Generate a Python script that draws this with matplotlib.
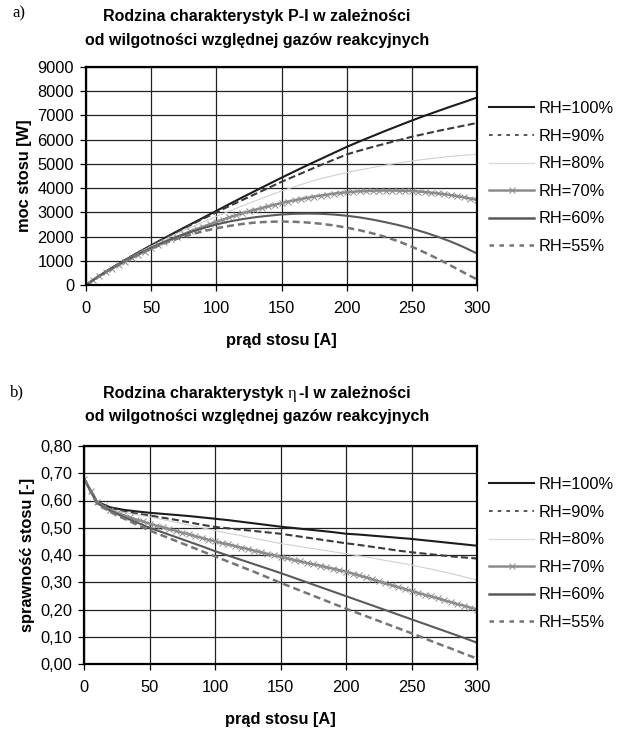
import matplotlib
matplotlib.use('Agg')
import matplotlib.pyplot as plt
from matplotlib.lines import Line2D

plt.rcParams['font.family'] = ['Liberation Sans', 'DejaVu Sans']

# prad stosu [A] - punkty co 10 A, dla RH=70% co 5 A (gesto rozstawione markery)
current = list(range(0, 301, 10))
current_70 = list(range(0, 301, 5))

labels = ['RH=100%', 'RH=90%', 'RH=80%', 'RH=70%', 'RH=60%', 'RH=55%']
x_ticks = [0, 50, 100, 150, 200, 250, 300]
p_ticks = [0, 1000, 2000, 3000, 4000, 5000, 6000, 7000, 8000, 9000]
eta_ticks = [0.0, 0.1, 0.2, 0.3, 0.4, 0.5, 0.6, 0.7, 0.8]
eta_tick_labels = ['0,00', '0,10', '0,20', '0,30', '0,40', '0,50', '0,60', '0,70', '0,80']

# moc stosu [W]
power_100 = [0, 370, 710, 1030, 1340, 1640, 1930, 2220, 2500, 2780,
             3060, 3340, 3620, 3890, 4160, 4430, 4690, 4950, 5200, 5450,
             5700, 5930, 6150, 6370, 6580, 6790, 6990, 7180, 7370, 7550, 7740]
power_90 = [0, 370, 710, 1030, 1330, 1630, 1920, 2200, 2470, 2740,
            3000, 3260, 3510, 3760, 4010, 4260, 4490, 4720, 4950, 5170,
            5390, 5550, 5700, 5840, 5980, 6120, 6240, 6360, 6470, 6580, 6690]
power_80 = [0, 370, 710, 1020, 1320, 1600, 1870, 2120, 2370, 2600,
            2830, 3050, 3270, 3480, 3680, 3880, 4060, 4230, 4390, 4520,
            4640, 4750, 4850, 4950, 5040, 5120, 5190, 5250, 5310, 5360, 5390]
power_70 = [0, 190, 360, 520, 680, 830, 970, 1110, 1250, 1380,
            1510, 1640, 1760, 1880, 1990, 2100, 2210, 2310, 2410, 2510,
            2610, 2700, 2790, 2880, 2960, 3040, 3110, 3180, 3250, 3320,
            3380, 3440, 3500, 3550, 3600, 3650, 3690, 3730, 3770, 3800,
            3830, 3850, 3870, 3880, 3890, 3900, 3900, 3900, 3895, 3890,
            3880, 3860, 3840, 3810, 3780, 3750, 3710, 3670, 3620, 3570, 3510]
power_60 = [0, 370, 700, 1000, 1280, 1540, 1780, 1990, 2180, 2350,
            2500, 2620, 2720, 2800, 2860, 2910, 2940, 2950, 2940, 2910,
            2860, 2790, 2700, 2590, 2470, 2330, 2170, 1990, 1790, 1560, 1300]
power_55 = [0, 370, 700, 990, 1260, 1500, 1720, 1910, 2080, 2220,
            2340, 2440, 2520, 2580, 2610, 2620, 2610, 2580, 2530, 2460,
            2370, 2260, 2130, 1980, 1800, 1580, 1340, 1080, 800, 510, 230]

# sprawnosc stosu [-]
eta_100 = [0.680, 0.595, 0.575, 0.566, 0.560, 0.555, 0.551, 0.547, 0.543, 0.538,
           0.533, 0.528, 0.522, 0.516, 0.510, 0.504, 0.499, 0.494, 0.489, 0.484,
           0.478, 0.475, 0.471, 0.467, 0.463, 0.459, 0.454, 0.449, 0.444, 0.439, 0.434]
eta_90 = [0.680, 0.593, 0.570, 0.560, 0.552, 0.545, 0.537, 0.529, 0.520, 0.511,
          0.503, 0.498, 0.493, 0.488, 0.483, 0.478, 0.471, 0.464, 0.457, 0.450,
          0.443, 0.437, 0.430, 0.423, 0.416, 0.410, 0.405, 0.400, 0.395, 0.391, 0.387]
eta_80 = [0.680, 0.592, 0.568, 0.557, 0.548, 0.540, 0.530, 0.520, 0.510, 0.500,
          0.490, 0.480, 0.471, 0.461, 0.452, 0.442, 0.435, 0.427, 0.420, 0.412,
          0.405, 0.397, 0.389, 0.380, 0.372, 0.363, 0.353, 0.343, 0.332, 0.320, 0.308]
eta_70 = [0.680, 0.635, 0.595, 0.578, 0.566, 0.555, 0.546, 0.538, 0.530, 0.523,
          0.515, 0.508, 0.502, 0.495, 0.489, 0.482, 0.476, 0.469, 0.463, 0.456,
          0.450, 0.444, 0.439, 0.433, 0.427, 0.422, 0.416, 0.410, 0.404, 0.399,
          0.393, 0.388, 0.382, 0.377, 0.371, 0.366, 0.361, 0.355, 0.350, 0.344,
          0.339, 0.332, 0.325, 0.318, 0.311, 0.303, 0.296, 0.289, 0.282, 0.275,
          0.268, 0.261, 0.254, 0.248, 0.241, 0.234, 0.227, 0.220, 0.214, 0.207, 0.200]
eta_60 = [0.680, 0.590, 0.563, 0.540, 0.520, 0.500, 0.483, 0.466, 0.449, 0.432,
          0.414, 0.398, 0.382, 0.366, 0.350, 0.334, 0.317, 0.300, 0.283, 0.266,
          0.249, 0.232, 0.215, 0.198, 0.181, 0.164, 0.147, 0.130, 0.113, 0.096, 0.078]
eta_55 = [0.680, 0.588, 0.558, 0.535, 0.512, 0.490, 0.471, 0.452, 0.433, 0.414,
          0.395, 0.376, 0.357, 0.338, 0.318, 0.298, 0.279, 0.260, 0.241, 0.222,
          0.203, 0.185, 0.167, 0.149, 0.131, 0.113, 0.094, 0.075, 0.057, 0.038, 0.020]

styles = [
    dict(color='#1c1c1c', lw=1.5),
    dict(color='#3a3a3a', lw=1.5, dashes=(3.4, 1.6)),
    dict(color='#d0d0d0', lw=0.8),
    dict(color='#8c8c8c', lw=1.8, marker='x', ms=4.5, mew=0.7),
    dict(color='#5a5a5a', lw=1.5),
    dict(color='#757575', lw=1.8, dashes=(2.8, 1.6)),
]
legend_styles = [
    dict(color='#1c1c1c', lw=1.5),
    dict(color='#3a3a3a', lw=1.2, dashes=(2.2, 3.0)),
    dict(color='#d8d8d8', lw=1.0),
    dict(color='#8c8c8c', lw=1.8, marker='x', ms=4.5, mew=0.7),
    dict(color='#5a5a5a', lw=1.8),
    dict(color='#757575', lw=1.8, dashes=(1.8, 2.2)),
]

TITLE_SIZE = 11.5
W, H = 626, 731
fig = plt.figure(figsize=(W / 100, H / 100), dpi=100)


def fx(px):
    return px / W


def fy(px):
    return 1 - px / H


def setup_axes(ax, yticks, ylim):
    ax.set_xlim(0, 300)
    ax.set_ylim(*ylim)
    ax.set_xticks(x_ticks)
    ax.set_yticks(yticks)
    ax.grid(True, color='#222222', lw=0.9)
    ax.set_axisbelow(True)
    for s in ax.spines.values():
        s.set_linewidth(1.6)
        s.set_color('black')
    ax.tick_params(direction='out', length=4.5, width=0.9, labelsize=11.8,
                   colors='black', pad=4)
    ax.tick_params(axis='x', pad=7)


def add_legend(top_px):
    handles = [Line2D([], [], **st) for st in legend_styles]
    fig.legend(handles, labels, loc='upper left',
               bbox_to_anchor=(fx(489), fy(top_px)), frameon=False,
               fontsize=11.8, handlelength=2.75, handletextpad=0.3,
               labelspacing=0.77, borderpad=0, borderaxespad=0, numpoints=1)


def title_pieces(center_px, base_px, pieces):
    # sklada jedna linie tytulu z kawalkow w roznych krojach
    r = fig.canvas.get_renderer()
    texts, widths = [], []
    for s, kw, gap in pieces:
        t = fig.text(0, fy(base_px), s, ha='left', va='baseline', **kw)
        texts.append((t, gap))
        widths.append(t.get_window_extent(r).width + gap)
    x = center_px - sum(widths) / 2
    for (t, gap), w in zip(texts, widths):
        t.set_x(fx(x))
        x += w


bold = dict(fontsize=TITLE_SIZE, fontweight='bold')
serif = dict(fontsize=TITLE_SIZE + 0.5, family='Liberation Serif')

# ---- a) P-I ----
ax1 = fig.add_axes([fx(86), fy(285), fx(477) - fx(86), (285 - 67) / H])
series_p = [power_100, power_90, power_80, power_70, power_60, power_55]
for lab, vals, st in zip(labels, series_p, styles):
    xs = current_70 if lab == 'RH=70%' else current
    ax1.plot(xs, vals, **st)
setup_axes(ax1, p_ticks, (0, 9000))
ax1.set_xlabel('prąd stosu [A]', fontsize=11.8, fontweight='bold', labelpad=12)
ax1.set_ylabel('moc stosu [W]', fontsize=11.8, fontweight='bold', labelpad=4)
add_legend(101)

fig.text(fx(257), fy(17), 'Rodzina charakterystyk P-I w zależności',
         ha='center', va='center', **bold)
fig.text(fx(257), fy(41), 'od wilgotności względnej gazów reakcyjnych',
         ha='center', va='center', **bold)
fig.text(fx(12), fy(13), 'a)', ha='left', va='center', fontsize=12,
         family='Liberation Serif')

# ---- b) eta-I ----
ax2 = fig.add_axes([fx(84), fy(664), fx(477) - fx(84), (664 - 446) / H])
series_eta = [eta_100, eta_90, eta_80, eta_70, eta_60, eta_55]
for lab, vals, st in zip(labels, series_eta, styles):
    xs = current_70 if lab == 'RH=70%' else current
    ax2.plot(xs, vals, **st)
setup_axes(ax2, eta_ticks, (0, 0.8))
ax2.set_yticklabels(eta_tick_labels)
ax2.set_xlabel('prąd stosu [A]', fontsize=11.8, fontweight='bold', labelpad=12)
ax2.set_ylabel('sprawność stosu [-]', fontsize=11.8, fontweight='bold', labelpad=4)
add_legend(477)

title_pieces(257, 398, [('Rodzina charakterystyk', bold, 4.5),
                        ('η', serif, 2.5),
                        ('-I w zależności', bold, 0)])
fig.text(fx(257), fy(417), 'od wilgotności względnej gazów reakcyjnych',
         ha='center', va='center', **bold)
fig.text(fx(10), fy(392), 'b)', ha='left', va='center', fontsize=12,
         family='Liberation Serif')

fig.savefig('out.png', dpi=100)
